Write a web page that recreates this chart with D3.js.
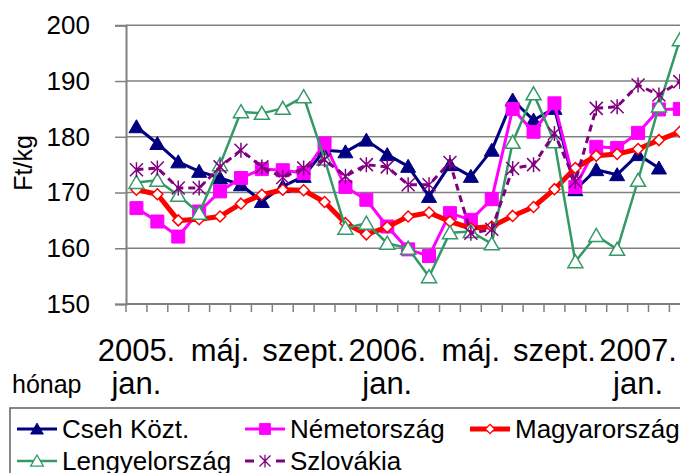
<!DOCTYPE html>
<html>
<head>
<meta charset="utf-8">
<script src="https://cdn.jsdelivr.net/npm/d3@7"></script>
<style>
  body { margin: 0; background: #fff; }
  text { font-family: "Liberation Sans", Arial, sans-serif; fill: #000; }
</style>
</head>
<body>
<script>
// monthly categories, 2005 jan. .. 2007 márc.
var months = ["2005. jan.", "2005. febr.", "2005. márc.", "2005. ápr.", "2005. máj.", "2005. jún.",
  "2005. júl.", "2005. aug.", "2005. szept.", "2005. okt.", "2005. nov.", "2005. dec.",
  "2006. jan.", "2006. febr.", "2006. márc.", "2006. ápr.", "2006. máj.", "2006. jún.",
  "2006. júl.", "2006. aug.", "2006. szept.", "2006. okt.", "2006. nov.", "2006. dec.",
  "2007. jan.", "2007. febr.", "2007. márc."];

// only every 4th month gets a label (lines of the label)
var tickLabels = {
  "2005. jan.": ["2005.", "jan."],
  "2005. máj.": ["máj."],
  "2005. szept.": ["szept."],
  "2006. jan.": ["2006.", "jan."],
  "2006. máj.": ["máj."],
  "2006. szept.": ["szept."],
  "2007. jan.": ["2007.", "jan."]
};

var yTicks = [150, 160, 170, 180, 190, 200];

var cseh = [181.8, 178.8, 175.5, 173.8, 172.6, 171.4, 168.4, 171.1, 172.9, 177.6, 177.3, 179.4, 176.8,
  174.7, 169.3, 175, 172.9, 177.6, 186.6, 183, 185.1, 170.5, 174.1, 173.2, 176.8, 174.4, null];
var nemet = [167.2, 164.8, 162.1, 166.6, 170.2, 172.6, 174.2, 174, 173.5, 178.8, 171, 168.7, 163.9,
  159.8, 158.6, 166.3, 165.1, 168.8, 185, 180.9, 186, 171, 178.2, 178, 180.7, 184.9, 185];
var magyar = [170.5, 169.7, 165, 165.2, 165.7, 168, 169.6, 170.5, 170.4, 168.3, 164.5, 162.5, 163.8,
  165.7, 166.4, 164.8, 163.6, 163.9, 165.8, 167.4, 170.6, 174.4, 176.6, 176.9, 177.8, 179.4, 180.9];
var lengyel = [171.8, 172.2, 169.5, 166.3, 175, 184.5, 184.2, 185.1, 187.2, 176, 163.6, 164.5, 160.9,
  160, 154.9, 162.8, 163, 160.8, 179, 187.7, 179.1, 157.6, 162.3, 159.8, 172.2, 185.5, 197.4];
var szlovak = [174.1, 174.4, 170.8, 170.8, 174.6, 177.6, 174.6, 172.7, 174.4, 175.9, 172.9, 175, 174.6,
  171.4, 171.4, 175.4, 162.7, 163.4, 174.3, 175, 180.6, 172, 185.1, 185.4, 189.3, 187.5, 189.9];

var triangle = "M0,-7L7.5,6L-7.5,6Z";
var square = "M-6.5,-6.5H6.5V6.5H-6.5Z";
var diamond = "M0,-5.5L5.5,0L0,5.5L-5.5,0Z";
var star = "M0,-7.5V7.5M-6.5,-6.5L6.5,6.5M-6.5,6.5L6.5,-6.5";

var series = [
  {name: "Cseh Közt.", values: cseh, color: "#000080", width: 3, marker: triangle, fill: "#000080", mstroke: 1},
  {name: "Németország", values: nemet, color: "#FF00FF", width: 3, marker: square, fill: "#FF00FF", mstroke: 1},
  {name: "Magyarország", values: magyar, color: "#FF0000", width: 5, marker: diamond, fill: "#fff", mstroke: 1.5},
  {name: "Lengyelország", values: lengyel, color: "#339966", width: 2.5, marker: triangle, fill: "#fff", mstroke: 1.5},
  {name: "Szlovákia", values: szlovak, color: "#800080", width: 3, marker: star, fill: "none", mstroke: 1.5, dash: "7,5"}
];

var width = 680, height = 473;
var svg = d3.select("body").append("svg")
    .attr("width", width)
    .attr("height", height);

var x = d3.scaleBand().domain(months).range([126, 126 + 27 * 20.9]).padding(0);
var y = d3.scaleLinear().domain([150, 200]).range([304, 25.3]);

// gridlines
svg.selectAll("line.grid")
    .data(yTicks.slice(1)).enter()
    .append("line")
    .attr("class", "grid")
    .attr("x1", 126).attr("x2", x.range()[1])
    .attr("y1", function(d){ return y(d); })
    .attr("y2", function(d){ return y(d); })
    .attr("stroke", "#808080")
    .attr("stroke-width", 1.5);

// y axis
var yAxis = svg.append("g")
    .attr("transform", "translate(126,0)")
    .call(d3.axisLeft(y).tickValues(yTicks).tickSize(11).tickPadding(25));
yAxis.select(".domain").attr("stroke", "#808080").attr("stroke-width", 2);
yAxis.selectAll(".tick line").attr("stroke", "#808080").attr("stroke-width", 1.5);
yAxis.selectAll(".tick text")
    .attr("font-size", "26px")
    .attr("fill", "#000")
    .attr("font-family", "Liberation Sans, Arial, sans-serif");

// x axis line + ticks at band boundaries
svg.append("line")
    .attr("x1", 126).attr("x2", x.range()[1])
    .attr("y1", y(150)).attr("y2", y(150))
    .attr("stroke", "#808080").attr("stroke-width", 2);
svg.selectAll("line.xtick")
    .data(months.concat(["end"])).enter()
    .append("line")
    .attr("class", "xtick")
    .attr("x1", function(d){ return d === "end" ? x.range()[1] : x(d); })
    .attr("x2", function(d){ return d === "end" ? x.range()[1] : x(d); })
    .attr("y1", y(150)).attr("y2", y(150) + 8)
    .attr("stroke", "#808080").attr("stroke-width", 1.5);

// x labels
var lab = svg.selectAll("text.xlab")
    .data(months.filter(function(d){ return tickLabels[d]; })).enter()
    .append("text")
    .attr("class", "xlab")
    .attr("text-anchor", "middle")
    .attr("font-size", "31px");
lab.selectAll("tspan")
    .data(function(d){ return tickLabels[d].map(function(t){ return {t: t, m: d}; }); }).enter()
    .append("tspan")
    .attr("x", function(d){ return x(d.m) + x.bandwidth() / 2; })
    .attr("y", function(d, i){ return 361 + i * 33; })
    .text(function(d){ return d.t; });

svg.append("text")
    .attr("x", 12).attr("y", 393)
    .attr("font-size", "25px")
    .text("hónap");

svg.append("text")
    .attr("transform", "translate(32,163) rotate(-90)")
    .attr("text-anchor", "middle")
    .attr("font-size", "25px")
    .text("Ft/kg");

// series
var line = d3.line()
    .defined(function(d){ return d != null; })
    .x(function(d, i){ return x(months[i]) + x.bandwidth() / 2; })
    .y(function(d){ return y(d); });

series.forEach(function(s){
    var g = svg.append("g");
    g.append("path")
        .attr("d", line(s.values))
        .attr("fill", "none")
        .attr("stroke", s.color)
        .attr("stroke-width", s.width)
        .attr("stroke-dasharray", s.dash || null)
        .attr("stroke-linejoin", "round");
    g.selectAll("path.m")
        .data(s.values.map(function(v, i){ return {v: v, i: i}; }).filter(function(d){ return d.v != null; }))
        .enter().append("path")
        .attr("class", "m")
        .attr("transform", function(d){ return "translate(" + (x(months[d.i]) + x.bandwidth() / 2) + "," + y(d.v) + ")"; })
        .attr("d", s.marker)
        .attr("fill", s.fill)
        .attr("stroke", s.color)
        .attr("stroke-width", s.mstroke);
});

// legend
svg.append("rect")
    .attr("x", 10).attr("y", 408)
    .attr("width", 700).attr("height", 100)
    .attr("fill", "#fff")
    .attr("stroke", "#606060")
    .attr("stroke-width", 1.5);

var legendPos = [[17, 429], [245, 429], [470, 429], [17, 461], [245, 461]];
series.forEach(function(s, i){
    var lx = legendPos[i][0], ly = legendPos[i][1];
    var g = svg.append("g");
    g.append("line")
        .attr("x1", lx).attr("x2", lx + 40)
        .attr("y1", ly).attr("y2", ly)
        .attr("stroke", s.color)
        .attr("stroke-width", s.width)
        .attr("stroke-dasharray", s.dash ? "9,22,9" : null);
    g.append("path")
        .attr("transform", "translate(" + (lx + 20) + "," + ly + ") scale(0.85)")
        .attr("d", s.marker)
        .attr("fill", s.fill)
        .attr("stroke", s.color)
        .attr("stroke-width", s.mstroke);
    g.append("text")
        .attr("x", lx + 45).attr("y", ly + 9)
        .attr("font-size", "26px")
        .text(s.name);
});
</script>
</body>
</html>
